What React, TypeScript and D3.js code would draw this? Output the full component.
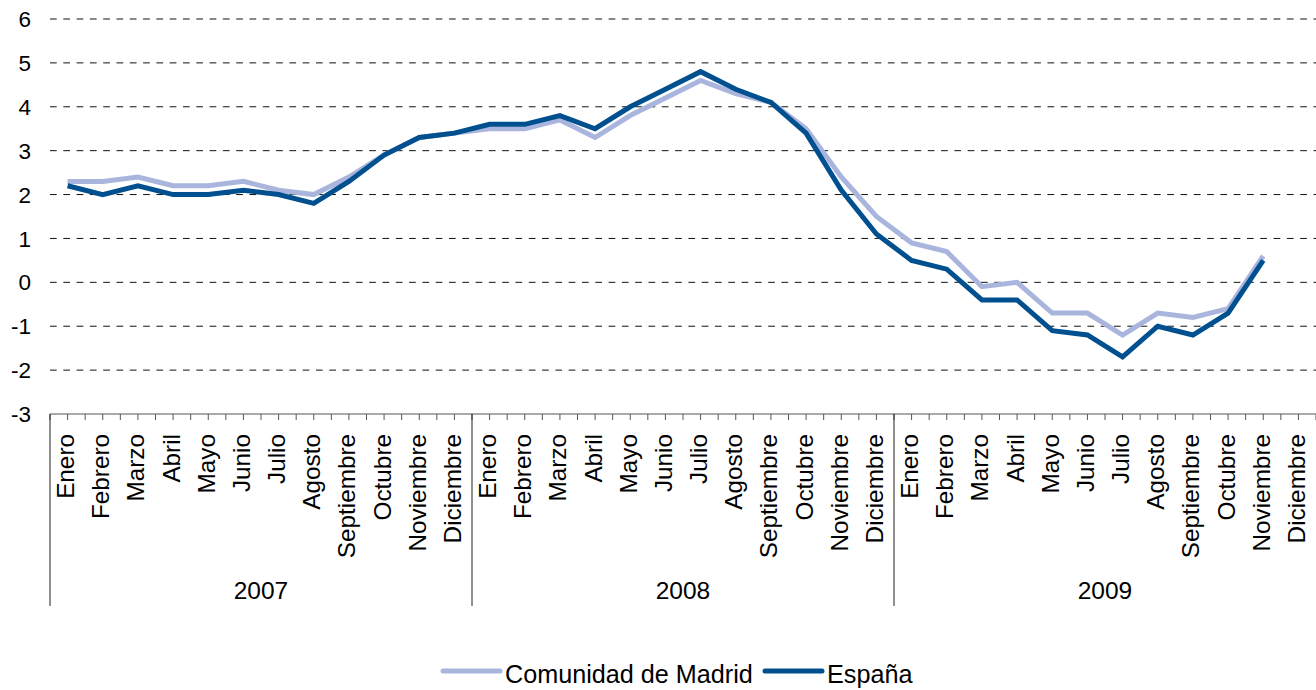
import * as d3 from 'd3';
import React, {useEffect} from 'react';

const years = ['2007', '2008', '2009'];
const months = ['Enero', 'Febrero', 'Marzo', 'Abril', 'Mayo', 'Junio', 'Julio', 'Agosto',
  'Septiembre', 'Octubre', 'Noviembre', 'Diciembre'];
const yTicks = [6, 5, 4, 3, 2, 1, 0, -1, -2, -3];

const madrid: Array<number | null> = [
  2.3, 2.3, 2.4, 2.2, 2.2, 2.3, 2.1, 2.0, 2.4, 2.9, 3.3, 3.4,
  3.5, 3.5, 3.7, 3.3, 3.8, 4.2, 4.6, 4.3, 4.1, 3.5, 2.4, 1.5,
  0.9, 0.7, -0.1, 0.0, -0.7, -0.7, -1.2, -0.7, -0.8, -0.6, 0.6, null
];
const espana: Array<number | null> = [
  2.2, 2.0, 2.2, 2.0, 2.0, 2.1, 2.0, 1.8, 2.3, 2.9, 3.3, 3.4,
  3.6, 3.6, 3.8, 3.5, 4.0, 4.4, 4.8, 4.4, 4.1, 3.4, 2.1, 1.1,
  0.5, 0.3, -0.4, -0.4, -1.1, -1.2, -1.7, -1.0, -1.2, -0.7, 0.5, null
];

const series = [
  {name: 'Comunidad de Madrid', values: madrid, color: '#a9b5dd'},
  {name: 'España', values: espana, color: '#00508f'}
];

const FONT = '"Liberation Sans", Arial, sans-serif';

export default function App() {
  const chartRef: React.RefObject<SVGSVGElement> = React.createRef();

  const initChart = () => {
    const width = 1316;
    const height = 690;
    const left = 50;
    const right = 1316;
    const svg = d3.select(chartRef.current);
    svg.selectAll('*').remove();

    const keys: string[] = [];
    years.forEach(y => months.forEach(m => keys.push(`${y}-${m}`)));

    const x = d3.scaleBand<string>().domain(keys).range([left, right]).padding(0);
    const y = d3.scaleLinear().domain([-3, 6]).range([414, 19]);
    const bw = x.bandwidth();

    // gridlines
    svg.append('g').selectAll('line')
      .data(yTicks.filter(t => t > -3))
      .enter().append('line')
      .attr('x1', left).attr('x2', right)
      .attr('y1', d => y(d)).attr('y2', d => y(d))
      .attr('stroke', '#111').attr('stroke-width', 1)
      .attr('stroke-dasharray', '6.7,6.6');

    // y labels
    svg.append('g').selectAll('text')
      .data(yTicks)
      .enter().append('text')
      .attr('x', 31).attr('y', d => y(d))
      .attr('dy', '0.36em')
      .attr('text-anchor', 'end')
      .style('font-family', FONT).style('font-size', '22.5px')
      .text(d => d);

    // x axis line
    const axisY = y(-3);
    svg.append('line')
      .attr('x1', left).attr('x2', right)
      .attr('y1', axisY).attr('y2', axisY)
      .attr('stroke', '#555').attr('stroke-width', 1);

    // small ticks every half month
    const halfTicks = d3.range(keys.length * 2 + 1).map(i => left + i * bw / 2);
    svg.append('g').selectAll('line')
      .data(halfTicks)
      .enter().append('line')
      .attr('x1', d => d).attr('x2', d => d)
      .attr('y1', axisY).attr('y2', axisY + 6)
      .attr('stroke', '#555').attr('stroke-width', 1);

    // year separators
    const seps = years.map(yr => x(`${yr}-Enero`) as number);
    svg.append('g').selectAll('line')
      .data(seps)
      .enter().append('line')
      .attr('x1', d => d).attr('x2', d => d)
      .attr('y1', axisY).attr('y2', 606)
      .attr('stroke', '#222').attr('stroke-width', 1);

    // month labels
    svg.append('g').selectAll('text')
      .data(keys)
      .enter().append('text')
      .attr('transform', d => `translate(${(x(d) as number) + bw / 2 + 6.5},434) rotate(-90)`)
      .attr('text-anchor', 'end')
      .style('font-family', FONT).style('font-size', '24.3px')
      .text(d => d.split('-')[1]);

    // year labels
    svg.append('g').selectAll('text')
      .data(years)
      .enter().append('text')
      .attr('x', d => (x(`${d}-Enero`) as number) + bw * 6)
      .attr('y', 599)
      .attr('text-anchor', 'middle')
      .style('font-family', FONT).style('font-size', '24.5px')
      .text(d => d);

    // lines
    const line = d3.line<number | null>()
      .defined(d => d !== null)
      .x((d, i) => (x(keys[i]) as number) + bw / 2)
      .y(d => y(d as number));

    series.forEach(s => {
      svg.append('path')
        .datum(s.values)
        .attr('fill', 'none')
        .attr('stroke', s.color)
        .attr('stroke-width', 5)
        .attr('stroke-linejoin', 'miter')
        .attr('d', line);
    });

    // legend
    const legendPos = [{lx: 443, tx: 505}, {lx: 765, tx: 827}];
    series.forEach((s, i) => {
      const p = legendPos[i];
      svg.append('line')
        .attr('x1', p.lx).attr('x2', p.lx + 57)
        .attr('y1', 671).attr('y2', 671)
        .attr('stroke', s.color).attr('stroke-width', 5)
        .attr('stroke-linecap', 'round');
      svg.append('text')
        .attr('x', p.tx).attr('y', 683)
        .style('font-family', FONT).style('font-size', '25.2px')
        .text(s.name);
    });

    svg.attr('width', width).attr('height', height);
  };

  useEffect(() => {
    document.body.style.margin = '0';
    initChart();
  }, []);

  return (
    <div className='LineChart'>
      <svg ref={chartRef} width={1316} height={690} style={{display: 'block', background: '#fff'}}/>
    </div>
  );
}
